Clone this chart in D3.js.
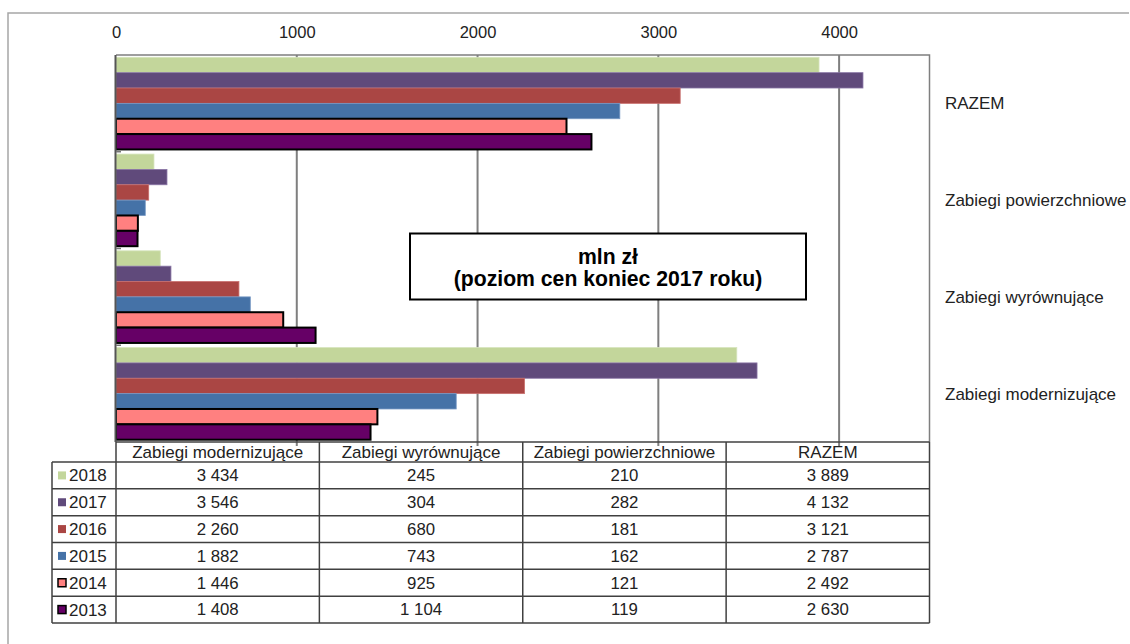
<!DOCTYPE html>
<html>
<head>
<meta charset="utf-8">
<script src="https://cdn.jsdelivr.net/npm/d3@7/dist/d3.min.js"></script>
<style>
  html, body { margin: 0; padding: 0; background: #fff; }
  svg { display: block; font-family: "Liberation Sans", Arial, sans-serif; }
</style>
</head>
<body>
<svg id="chart" width="1130" height="644"></svg>
<script>
// Categories in table order (left to right); the chart lists them bottom to top
const categories = ["Zabiegi modernizujące", "Zabiegi wyrównujące", "Zabiegi powierzchniowe", "RAZEM"];
const years = ["2018", "2017", "2016", "2015", "2014", "2013"];

// mln zł, per category (same order as categories)
const values2018 = [3434, 245, 210, 3889];
const values2017 = [3546, 304, 282, 4132];
const values2016 = [2260, 680, 181, 3121];
const values2015 = [1882, 743, 162, 2787];
const values2014 = [1446, 925, 121, 2492];
const values2013 = [1408, 1104, 119, 2630];

const xTicks = [0, 1000, 2000, 3000, 4000];
const boxLines = ["mln zł", "(poziom cen koniec 2017 roku)"];

const seriesValues = {
  "2018": values2018, "2017": values2017, "2016": values2016,
  "2015": values2015, "2014": values2014, "2013": values2013
};
const fills = {
  "2018": "#C3D69B", "2017": "#604A7B", "2016": "#AA4644",
  "2015": "#4572A7", "2014": "#FF8080", "2013": "#660066"
};
const strokes = {
  "2018": "#d6e4bd", "2017": "#8a76a6", "2016": "#c9706e",
  "2015": "#7799c4", "2014": "#000", "2013": "#000"
};
const strokeW = { "2018": 0.8, "2017": 0.8, "2016": 0.8, "2015": 0.8, "2014": 2, "2013": 2 };

const svg = d3.select("#chart");
const fmt = d3.formatLocale({ decimal: ",", thousands: " ", grouping: [3], currency: ["", " zł"] }).format(",d");

// Outer frame
svg.append("path")
  .attr("d", "M8,650 L8,13 L1129,13")
  .attr("fill", "none").attr("stroke", "#a6a6a6").attr("stroke-width", 1.5);

const plot = { left: 116, right: 929.5, top: 55, bottom: 442 };

const x = d3.scaleLinear().domain([0, 4500]).range([plot.left, plot.right]);
const y = d3.scaleBand().domain(categories.slice().reverse()).range([plot.top, plot.bottom]).padding(0);
const ySub = d3.scaleBand().domain(years).range([0, y.bandwidth()]).paddingInner(0).paddingOuter(0.15);

// Gridlines
svg.append("g").selectAll("line").data(xTicks.slice(1)).join("line")
  .attr("x1", d => x(d)).attr("x2", d => x(d))
  .attr("y1", plot.top).attr("y2", plot.bottom + 4)
  .attr("stroke", "#7f7f7f").attr("stroke-width", 2);

// Plot frame: top line and right edge
svg.append("path")
  .attr("d", `M${plot.left},${plot.top} L${plot.right},${plot.top} L${plot.right},${plot.bottom}`)
  .attr("fill", "none").attr("stroke", "#7f7f7f").attr("stroke-width", 1.5);

// Top axis labels
const xAxis = d3.axisTop(x).tickValues(xTicks).tickSize(0).tickPadding(0).tickFormat(d3.format("d"));
const gx = svg.append("g").attr("transform", `translate(0,${38})`).call(xAxis);
gx.select(".domain").remove();
gx.selectAll("text").attr("font-size", 16.5).attr("fill", "#222")
  .attr("font-family", "'Liberation Sans', Arial, sans-serif").attr("dy", 0);

// Bars
const groups = svg.append("g").selectAll("g").data(categories).join("g")
  .attr("transform", d => `translate(0,${y(d)})`);
groups.selectAll("rect")
  .data((c, ci) => years.map(yr => ({ yr, v: seriesValues[yr][ci] })))
  .join("rect")
  .attr("x", x(0))
  .attr("y", d => ySub(d.yr))
  .attr("width", d => x(d.v) - x(0))
  .attr("height", ySub.bandwidth())
  .attr("fill", d => fills[d.yr])
  .attr("stroke", d => strokes[d.yr])
  .attr("stroke-width", d => strokeW[d.yr]);

// Left axis line with category separators
svg.append("line")
  .attr("x1", plot.left - 0.5).attr("x2", plot.left - 0.5)
  .attr("y1", plot.top).attr("y2", plot.bottom)
  .attr("stroke", "#555").attr("stroke-width", 2);
svg.append("g").selectAll("line").data(categories.slice().reverse().slice(1)).join("line")
  .attr("x1", plot.left).attr("x2", plot.left + 5)
  .attr("y1", d => y(d)).attr("y2", d => y(d))
  .attr("stroke", "#777").attr("stroke-width", 1.5);

// Category labels on the right
svg.append("g").selectAll("text").data(categories).join("text")
  .attr("x", 945)
  .attr("y", d => y(d) + y.bandwidth() / 2)
  .attr("dy", "0.35em")
  .attr("font-size", 17).attr("fill", "#222")
  .text(d => d);

// Unit box
const box = { x: 410, y: 233.5, w: 396, h: 66 };
svg.append("rect")
  .attr("x", box.x).attr("y", box.y).attr("width", box.w).attr("height", box.h)
  .attr("fill", "#fff").attr("stroke", "#000").attr("stroke-width", 2);
svg.append("g").selectAll("text").data(boxLines).join("text")
  .attr("x", box.x + box.w / 2)
  .attr("y", (d, i) => 264 + i * 21.5)
  .attr("text-anchor", "middle")
  .attr("font-size", 21.2).attr("font-weight", "bold").attr("fill", "#000")
  .text(d => d);

// Data table
const tableX = d3.scaleBand().domain(categories).range([plot.left, plot.right]);
const headerTop = plot.bottom, headerBottom = 462;
const rowY = d3.scaleBand().domain(years).range([headerBottom, 623]);
const legendLeft = 52;
const lineColor = "#404040";
const table = svg.append("g");

// Header cells
table.selectAll("text.head").data(categories).join("text")
  .attr("class", "head")
  .attr("x", d => tableX(d) + tableX.bandwidth() / 2)
  .attr("y", (headerTop + headerBottom) / 2)
  .attr("dy", "0.35em").attr("text-anchor", "middle")
  .attr("font-size", 17).attr("fill", "#222")
  .text(d => d);

// Value cells
years.forEach(yr => {
  table.selectAll(`text.v${yr}`).data(seriesValues[yr]).join("text")
    .attr("class", `v${yr}`)
    .attr("x", (d, i) => tableX(categories[i]) + tableX.bandwidth() / 2)
    .attr("y", rowY(yr) + rowY.bandwidth() / 2)
    .attr("dy", "0.35em").attr("text-anchor", "middle")
    .attr("font-size", 16.8).attr("fill", "#222")
    .text(d => fmt(d));
});

// Legend keys
table.selectAll("rect.key").data(years).join("rect")
  .attr("class", "key")
  .attr("x", 58).attr("y", d => rowY(d) + rowY.bandwidth() / 2 - 4)
  .attr("width", 8).attr("height", 8)
  .attr("fill", d => fills[d])
  .attr("stroke", d => strokeW[d] > 1 ? "#000" : "none")
  .attr("stroke-width", 1.5);
table.selectAll("text.key").data(years).join("text")
  .attr("class", "key")
  .attr("x", 69).attr("y", d => rowY(d) + rowY.bandwidth() / 2)
  .attr("dy", "0.35em")
  .attr("font-size", 17).attr("fill", "#222")
  .text(d => d);

// Table grid
const hLines = [{ y: headerTop, x1: plot.left }, { y: headerBottom, x1: legendLeft }]
  .concat(years.map(yr => ({ y: rowY(yr) + rowY.bandwidth(), x1: legendLeft })));
table.selectAll("line.h").data(hLines).join("line")
  .attr("class", "h")
  .attr("x1", d => d.x1).attr("x2", plot.right)
  .attr("y1", d => d.y).attr("y2", d => d.y)
  .attr("stroke", lineColor).attr("stroke-width", 1.5);
const vLines = [{ x: legendLeft, y1: headerBottom }]
  .concat(categories.map(c => ({ x: tableX(c), y1: headerTop })))
  .concat([{ x: plot.right, y1: headerTop }]);
table.selectAll("line.v").data(vLines).join("line")
  .attr("class", "v")
  .attr("x1", d => d.x).attr("x2", d => d.x)
  .attr("y1", d => d.y1).attr("y2", 623)
  .attr("stroke", lineColor).attr("stroke-width", 1.5);
</script>
</body>
</html>
